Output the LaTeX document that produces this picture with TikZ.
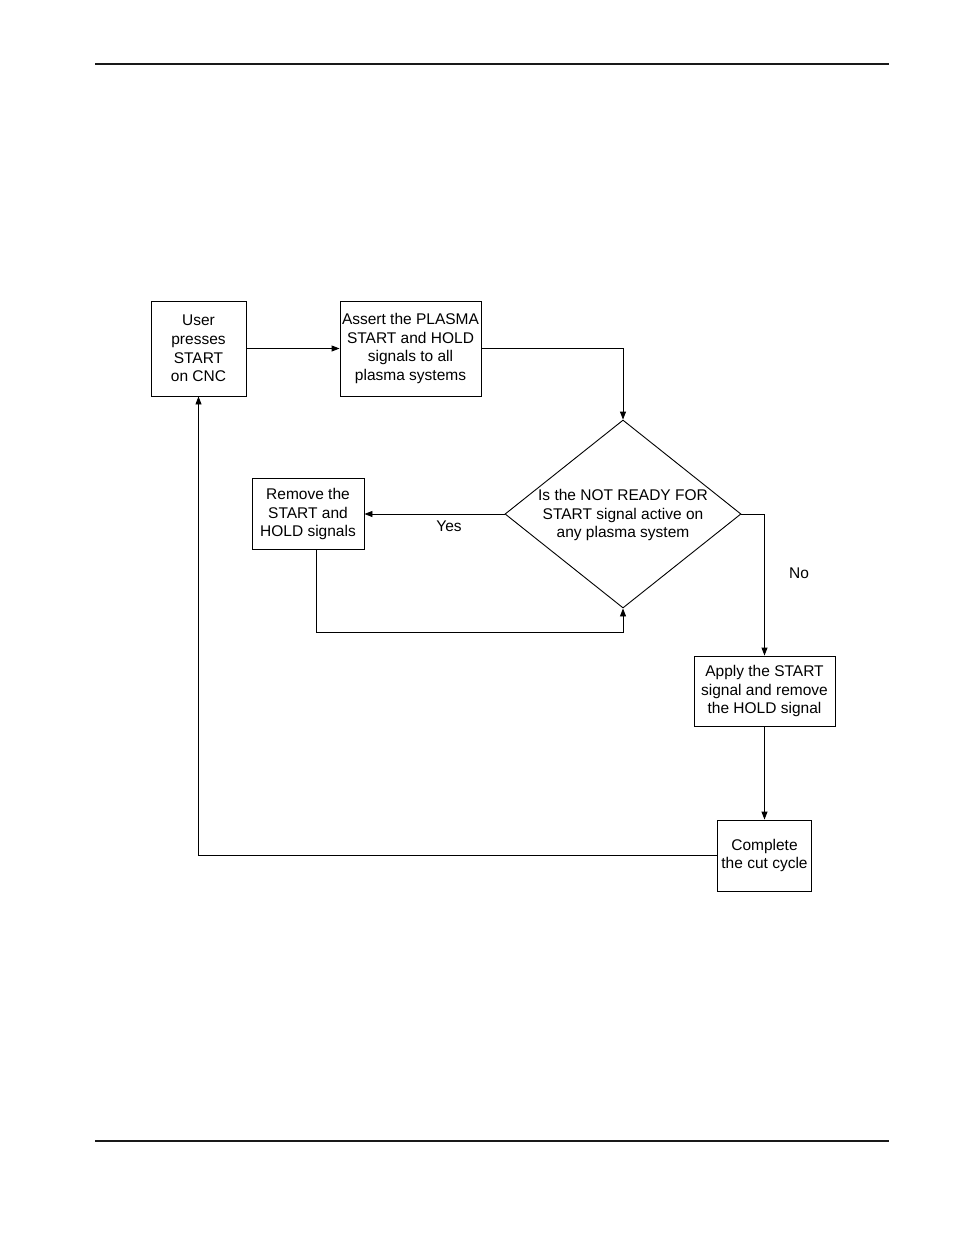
\documentclass[tikz,border=0pt]{standalone}
\usepackage{fontspec}
\setmainfont{Liberation Sans}
\usetikzlibrary{arrows.meta,shapes.geometric}
\begin{document}
\begin{tikzpicture}[x=1pt,y=-1pt,
  txt/.style={font=\fontsize{15.5}{18.8}\selectfont, align=center, inner sep=0pt},
  box/.style={txt, draw, line width=0.9pt},
  flow/.style={-{Triangle[length=8pt,width=6pt]}, line width=0.9pt},
  rule/.style={line width=2pt, draw=black!90}]
\fill[white] (0,0) rectangle (954,1235);
\useasboundingbox (0,0) rectangle (954,1235);
\draw[rule] (95,64) -- (889,64);
\draw[rule] (95,1141) -- (889,1141);

\node[box, minimum width=95pt, minimum height=95pt] (user) at (198.5,348.5) {User\\presses\\START\\on CNC};
\node[box, minimum width=141pt, minimum height=95pt] (assert) at (410.5,348.5) {Assert the PLASMA\\START and HOLD\\signals to all\\plasma systems};
\node[draw, shape=diamond, line width=0.9pt, inner sep=0pt, minimum width=236pt, minimum height=188pt] (dia) at (623,514) {};
\node[txt] (diatext) at ([yshift=-1pt]dia.center) {Is the NOT READY FOR\\START signal active on\\any plasma system};
\node[box, minimum width=112pt, minimum height=71pt] (remove) at (308,514) {Remove the\\START and\\HOLD signals};
\node[box, minimum width=141pt, minimum height=70pt] (apply) at (764.5,691) {Apply the START\\signal and remove\\the HOLD signal};
\node[box, minimum width=94pt, minimum height=71pt] (complete) at (764.5,855.5) {Complete\\the cut cycle};

\node[txt] (yes) at (449,526) {Yes};
\node[txt] (no) at (799,573) {No};

\coordinate (loopy) at (0,632);

\draw[flow] (user) -- (assert);
\draw[flow] (assert.east) -| (dia.north);
\draw[flow] (dia.west) -- (remove.east);
\draw[flow] ([xshift=8pt]remove.south) |- (loopy -| dia.south) -- (dia.south);
\draw[flow] (dia.east) -| (apply.north);
\draw[flow] (apply) -- (complete);
\draw[flow] (complete.west) -| (user.south);
\end{tikzpicture}
\end{document}
